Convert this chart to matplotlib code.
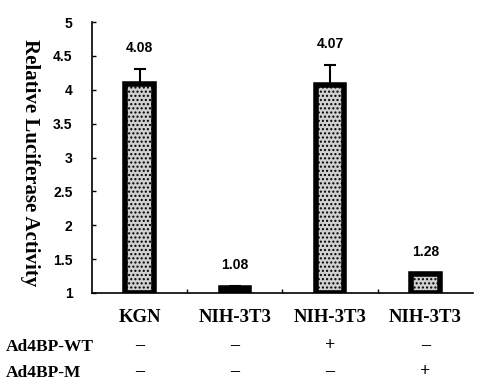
import numpy as np
import matplotlib
matplotlib.use('Agg')
import matplotlib.pyplot as plt

cells = ['KGN', 'NIH-3T3', 'NIH-3T3', 'NIH-3T3']
activity = [4.08, 1.08, 4.07, 1.28]
errors = [0.23, 0.03, 0.30, 0.01]
wt_row = ['-', '-', '+', '-']
m_row = ['-', '-', '-', '+']
yticks = [1, 1.5, 2, 2.5, 3, 3.5, 4, 4.5, 5]

serif = ['Liberation Serif', 'DejaVu Serif']
sans = ['Liberation Sans', 'DejaVu Sans']
plt.rcParams['hatch.color'] = '#6e6e6e'
plt.rcParams['hatch.linewidth'] = 1.0

fig = plt.figure(figsize=(4.82, 3.81), dpi=100)
ax = fig.add_axes([0.191, 0.231, 0.790, 0.711])

x = np.arange(len(cells))
# bars start at the axis floor (1), so draw heights relative to it
ax.bar(x, np.array(activity) - 1, bottom=1, width=0.3,
       color='#d0d0d0', edgecolor='black', linewidth=4, hatch='....',
       zorder=2)
ax.errorbar(x, activity, yerr=[np.zeros(len(errors)), errors], fmt='none',
            ecolor='black', elinewidth=1.5, capsize=4, capthick=1.5, zorder=3)

for xi, v, e in zip(x, activity, errors):
    ax.annotate('%.2f' % v, (xi, v + e), xytext=(0, 10), textcoords='offset points',
                ha='center', va='bottom', fontsize=10, fontweight='bold', family=sans)

ax.set_xlim(-0.5, len(cells) - 0.5)
ax.set_ylim(1, 5)
ax.set_yticks(yticks)
ax.set_yticklabels(['%g' % t for t in yticks], fontsize=10, fontweight='bold', family=sans)
ax.set_xticks(x[:-1] + 0.5)
ax.set_xticklabels([])
ax.tick_params(axis='both', direction='in', length=3, width=1)
ax.tick_params(axis='y', pad=14)
for s in ['top', 'right']:
    ax.spines[s].set_visible(False)
for s in ['left', 'bottom']:
    ax.spines[s].set_linewidth(1.2)

ax.set_ylabel('Relative Luciferase Activity', rotation=270, fontsize=15,
              fontweight='bold', family=serif)
ax.yaxis.set_label_coords(-0.19, 0.48)

trans = ax.get_xaxis_transform()
for xi, c in zip(x, cells):
    ax.text(xi, -0.09, c, transform=trans, ha='center', va='center',
            fontsize=13.5, fontweight='bold', family=serif)
for xi, s in zip(x, wt_row):
    ax.text(xi, -0.195, '\u2013' if s == '-' else s, transform=trans, ha='center',
            va='center', fontsize=13, fontweight='bold', family=serif)
for xi, s in zip(x, m_row):
    ax.text(xi, -0.29, '\u2013' if s == '-' else s, transform=trans, ha='center',
            va='center', fontsize=13, fontweight='bold', family=serif)
fig.text(0.013, 0.089, 'Ad4BP-WT', ha='left', va='center', fontsize=12.5,
         fontweight='bold', family=serif)
fig.text(0.013, 0.021, 'Ad4BP-M', ha='left', va='center', fontsize=12.5,
         fontweight='bold', family=serif)

fig.savefig('out.png', dpi=100)
